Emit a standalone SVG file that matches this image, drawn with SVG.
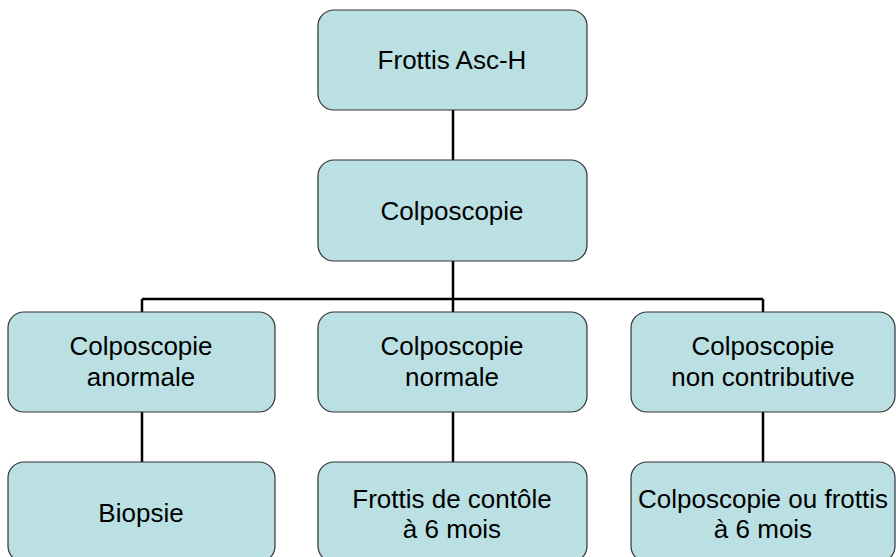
<svg xmlns="http://www.w3.org/2000/svg" width="896" height="557" viewBox="0 0 896 557">
<style>
.box{fill:#bae0e3;stroke:#333;stroke-width:1.2}
.t{font-family:"Liberation Sans",Arial,sans-serif;font-size:26px;fill:#000;text-anchor:middle}
.c{stroke:#000;stroke-width:2.5;fill:none}
</style>
<rect width="896" height="557" fill="#fff"/>
<g id="connectors">
<path class="c" d="M453 110V160M453 261V312M142 299H763M142 299V312M763 299V312M142 412V462M453 412V462M763 412V462"/>
</g>
<g id="n1"><rect class="box" x="318" y="10" width="269" height="100" rx="16"/><text class="t" x="452" y="69">Frottis Asc-H</text></g>
<g id="n2"><rect class="box" x="318" y="160" width="269" height="101" rx="16"/><text class="t" x="452" y="220">Colposcopie</text></g>
<g id="n3"><rect class="box" x="8" y="312" width="267" height="100" rx="16"/><text class="t" x="141" y="355">Colposcopie</text><text class="t" x="141" y="386">anormale</text></g>
<g id="n4"><rect class="box" x="318" y="312" width="269" height="100" rx="16"/><text class="t" x="452" y="355">Colposcopie</text><text class="t" x="452" y="386">normale</text></g>
<g id="n5"><rect class="box" x="631" y="312" width="264" height="100" rx="16"/><text class="t" x="763" y="355">Colposcopie</text><text class="t" x="763" y="386">non contributive</text></g>
<g id="n6"><rect class="box" x="8" y="462" width="267" height="100" rx="16"/><text class="t" x="141" y="522">Biopsie</text></g>
<g id="n7"><rect class="box" x="318" y="462" width="269" height="100" rx="16"/><text class="t" x="452" y="508">Frottis de contôle</text><text class="t" x="452" y="538">à 6 mois</text></g>
<g id="n8"><rect class="box" x="631" y="462" width="264" height="100" rx="16"/><text class="t" x="763" y="508">Colposcopie ou frottis</text><text class="t" x="763" y="538">à 6 mois</text></g>
</svg>
